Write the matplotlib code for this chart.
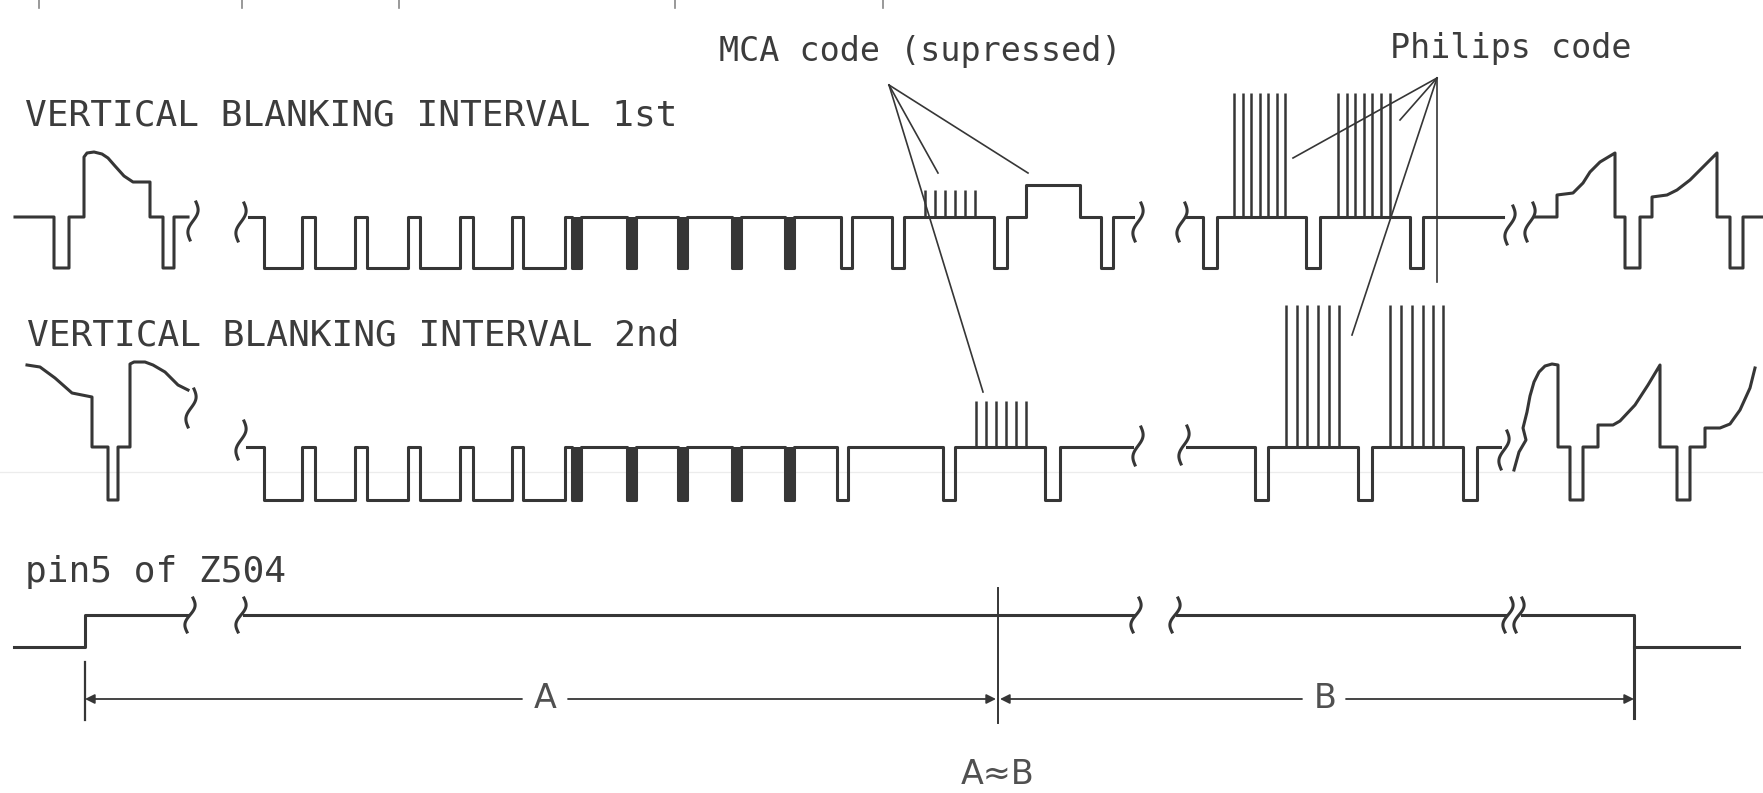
import numpy as np
import matplotlib.pyplot as plt

# ---- signal levels (drawing units = pixels of the original sheet) ----
ROW1_BASE, ROW1_SYNC = 217, 268
ROW2_BASE, ROW2_SYNC = 447, 500
PIN5_HIGH, PIN5_LOW = 615, 647
DIM_Y = 699

# ---- VBI 1st : left field end (x, y) ----
row1_left_x = [15, 54, 54, 69, 69, 84, 84, 87, 94, 102, 108, 115, 124, 133, 150, 150, 163, 163, 174, 174, 188]
row1_left_y = [217, 217, 268, 268, 217, 217, 157, 153, 152, 154, 158, 166, 176, 182, 182, 217, 217, 268, 268, 217, 217]

# ---- VBI 2nd : left field end ----
row2_left_x = [27, 40, 55, 72, 92, 92, 108, 108, 118, 118, 130, 130, 134, 145, 153, 165, 178, 188]
row2_left_y = [365, 367, 378, 393, 397, 447, 447, 500, 500, 447, 447, 364, 362, 362, 365, 372, 385, 390]

# broad (serrated) vertical sync: short returns to blanking level
broad_gaps = [(302, 315), (355, 367), (408, 420), (460, 473), (512, 523)]
# equalizing pulses (drawn solid)
eq_pulses = [(572, 581), (627, 636), (678, 687), (732, 741), (785, 794)]

row1_mid_sync = [(841, 852), (892, 904), (994, 1007), (1101, 1113)]
row1_step = (1026, 1080, 185)
row2_mid_sync = [(837, 848), (943, 955), (1045, 1060)]

row1_right_sync = [(1203, 1217), (1306, 1320), (1410, 1423)]
row2_right_sync = [(1255, 1268), (1358, 1372), (1463, 1477)]

# code bursts
row1_mca_x = [925, 935, 945, 955, 965, 975]
row1_mca_top = 190
row2_mca_x = [976, 986, 996, 1006, 1016, 1026]
row2_mca_top = 401
row1_philips_x = [1234, 1243, 1251, 1260, 1268, 1277, 1285,
                  1338, 1347, 1355, 1364, 1372, 1381, 1390]
row1_philips_top = 93
row2_philips_x = [1286, 1297, 1307, 1318, 1329, 1339,
                  1390, 1401, 1412, 1423, 1433, 1443]
row2_philips_top = 305

# ---- right field start ----
row1_right_x = [1535, 1557, 1557, 1573, 1583, 1590, 1600, 1615, 1615, 1625, 1625, 1640, 1640, 1652,
                1652, 1667, 1677, 1690, 1703, 1717, 1717, 1730, 1730, 1743, 1743, 1763]
row1_right_y = [217, 217, 195, 193, 183, 172, 162, 153, 217, 217, 268, 268, 217, 217,
                197, 195, 190, 180, 167, 153, 217, 217, 268, 268, 217, 217]
row2_right_x = [1514, 1519, 1526, 1523, 1527, 1530, 1534, 1539, 1545, 1552, 1558, 1558, 1570, 1570,
                1583, 1583, 1598, 1598, 1613, 1620, 1635, 1648, 1660, 1660, 1677, 1677, 1690, 1690,
                1705, 1705, 1720, 1730, 1740, 1750, 1755]
row2_right_y = [470, 452, 440, 428, 412, 396, 382, 372, 366, 364, 365, 447, 447, 500,
                500, 447, 447, 425, 425, 421, 405, 385, 365, 447, 447, 500, 500, 447,
                447, 428, 428, 424, 410, 388, 368]

# ---- pin5 of Z504 ----
pin5_segments = [
    ([14, 85, 85, 188], [PIN5_LOW, PIN5_LOW, PIN5_HIGH, PIN5_HIGH]),
    ([244, 1134], [PIN5_HIGH, PIN5_HIGH]),
    ([1177, 1505], [PIN5_HIGH, PIN5_HIGH]),
    ([1522, 1634, 1634], [PIN5_HIGH, PIN5_HIGH, 718]),
    ([1634, 1739], [PIN5_LOW, PIN5_LOW]),
]
pin5_breaks = [190, 241, 1136, 1175, 1508, 1519]

# breaks in the video rows (x, y centre)
row_breaks = [(193, 221), (241, 222), (1138, 222), (1182, 222), (1510, 225), (1530, 222),
              (191, 408), (241, 440), (1138, 446), (1184, 445), (1504, 450)]

# annotation fans
mca_apex = (889, 85)
mca_targets = [(938, 173), (1028, 173), (983, 392)]
philips_apex = (1437, 78)
philips_targets = [(1293, 158), (1400, 120), (1352, 335), (1437, 282)]

top_stubs = [39, 242, 399, 675, 883]

INK = '#363636'
TXT = '#3c3c3c'
LW = 2.2


def pulse_path(x_start, x_end, level, pulses):
    xs, ys = [x_start], [level]
    for x0, x1, lv in pulses:
        xs += [x0, x0, x1, x1]
        ys += [level, lv, lv, level]
    xs.append(x_end)
    ys.append(level)
    return xs, ys


def mid_row(base, sync, start, end, pulses):
    xs, ys = [start], [base]
    bx, by = pulse_path(264, 565, sync, [(a, b, base) for a, b in broad_gaps])
    xs += [264] + bx + [565]
    ys += [base] + by + [base]
    px, py = pulse_path(565, end, base, pulses)
    return xs + px, ys + py


def brk(cx, cy, h=38):
    t = np.linspace(0, 1, 25)
    return cx + 6 * (0.5 - t) + 3.5 * np.sin(2 * np.pi * t), cy - h / 2 + h * t


fig = plt.figure(figsize=(17.63, 7.93), dpi=100)
ax = fig.add_axes([0, 0, 1, 1])
ax.set_xlim(0, 1763)
ax.set_ylim(793, 0)
ax.axis('off')

# faint scan line of the copy
ax.axhline(472, color='#ececec', lw=0.9, zorder=0)
for x in top_stubs:
    ax.plot([x, x], [0, 8], color='#888888', lw=1.2)

# 1st field
ax.plot(row1_left_x, row1_left_y, color=INK, lw=LW)
p1 = [(a, b, ROW1_SYNC) for a, b in eq_pulses + row1_mid_sync] + [row1_step]
p1.sort()
x, y = mid_row(ROW1_BASE, ROW1_SYNC, 249, 1133, p1)
ax.plot(x, y, color=INK, lw=LW)
x, y = pulse_path(1187, 1503, ROW1_BASE, [(a, b, ROW1_SYNC) for a, b in row1_right_sync])
ax.plot(x, y, color=INK, lw=LW)
ax.plot(row1_right_x, row1_right_y, color=INK, lw=LW)
ax.vlines(row1_mca_x, row1_mca_top, ROW1_BASE, color=INK, lw=1.8)
ax.vlines(row1_philips_x, row1_philips_top, ROW1_BASE, color=INK, lw=1.8)

# 2nd field
ax.plot(row2_left_x, row2_left_y, color=INK, lw=LW)
p2 = sorted([(a, b, ROW2_SYNC) for a, b in eq_pulses + row2_mid_sync])
x, y = mid_row(ROW2_BASE, ROW2_SYNC, 247, 1132, p2)
ax.plot(x, y, color=INK, lw=LW)
x, y = pulse_path(1187, 1500, ROW2_BASE, [(a, b, ROW2_SYNC) for a, b in row2_right_sync])
ax.plot(x, y, color=INK, lw=LW)
ax.plot(row2_right_x, row2_right_y, color=INK, lw=LW)
ax.vlines(row2_mca_x, row2_mca_top, ROW2_BASE, color=INK, lw=1.8)
ax.vlines(row2_philips_x, row2_philips_top, ROW2_BASE, color=INK, lw=1.8)

# solid equalizing pulses
for base, sync in [(ROW1_BASE, ROW1_SYNC), (ROW2_BASE, ROW2_SYNC)]:
    for a, b in eq_pulses:
        ax.fill_between([a, b], base, sync, color=INK, lw=0)

for cx, cy in row_breaks:
    bx, by = brk(cx, cy)
    ax.plot(bx, by, color=INK, lw=LW)

# pin5 of Z504
for xs, ys in pin5_segments:
    ax.plot(xs, ys, color=INK, lw=LW)
for cx in pin5_breaks:
    bx, by = brk(cx, PIN5_HIGH, 34)
    ax.plot(bx, by, color=INK, lw=LW)

# annotation fans
for apex, targets in [(mca_apex, mca_targets), (philips_apex, philips_targets)]:
    for tx, ty in targets:
        ax.plot([apex[0], tx], [apex[1], ty], color=INK, lw=1.2)

# A / B dimension line
ax.plot([85, 85], [662, 720], color=INK, lw=1.6)
ax.plot([998, 998], [588, 723], color=INK, lw=1.4)
arrow = dict(arrowstyle='-|>', color=INK, lw=1.3, mutation_scale=14, shrinkA=0, shrinkB=0)
ax.annotate('', xy=(85, DIM_Y), xytext=(522, DIM_Y), arrowprops=arrow)
ax.annotate('', xy=(996, DIM_Y), xytext=(568, DIM_Y), arrowprops=arrow)
ax.annotate('', xy=(1000, DIM_Y), xytext=(1302, DIM_Y), arrowprops=arrow)
ax.annotate('', xy=(1634, DIM_Y), xytext=(1346, DIM_Y), arrowprops=arrow)

mono = dict(family='DejaVu Sans Mono', fontsize=26, color=TXT, va='baseline', ha='left')
small = dict(mono, fontsize=24)
ax.text(719, 61, 'MCA code (supressed)', **small)
ax.text(1390, 58, 'Philips code', **small)
ax.text(25, 125, 'VERTICAL BLANKING INTERVAL 1st', **mono)
ax.text(27, 345, 'VERTICAL BLANKING INTERVAL 2nd', **mono)
ax.text(25, 582, 'pin5 of Z504', **mono)

light = dict(family='DejaVu Sans', fontsize=24, color='#505050', ha='center', va='center')
ax.text(545, DIM_Y, 'A', **light)
ax.text(1325, DIM_Y, 'B', **light)
ax.text(998, 775, 'A\u2248B', **light)

plt.savefig('out.png', dpi=100, facecolor='white')
